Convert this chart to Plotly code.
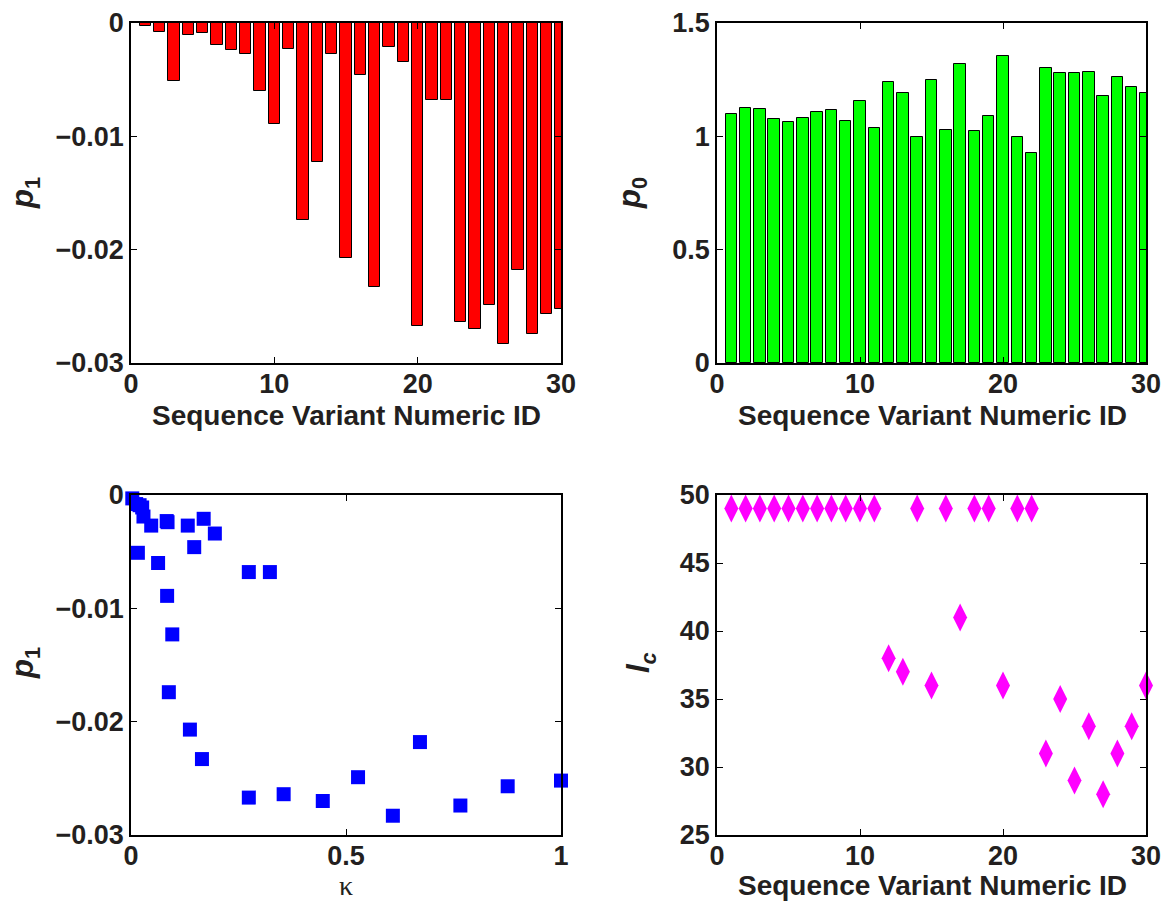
import plotly.graph_objects as go

# ---------------- data ----------------
variant_id = list(range(1, 31))

p1 = [-0.0003, -0.0008, -0.0051, -0.0011, -0.0009, -0.0019, -0.0024, -0.0027, -0.0060, -0.0089,
      -0.0023, -0.0174, -0.0123, -0.0027, -0.0207, -0.0046, -0.0233, -0.0021, -0.0034, -0.0267,
      -0.0068, -0.0068, -0.0264, -0.0270, -0.0249, -0.0283, -0.0218, -0.0274, -0.0257, -0.0252]

p0 = [1.098, 1.123, 1.120, 1.077, 1.064, 1.080, 1.108, 1.117, 1.067, 1.155,
      1.035, 1.239, 1.192, 0.996, 1.248, 1.027, 1.317, 1.023, 1.089, 1.355,
      0.996, 0.926, 1.301, 1.280, 1.279, 1.286, 1.180, 1.261, 1.217, 1.193]

kappa = [0.003, 0.012, 0.016, 0.026, 0.020, 0.029, 0.085, 0.047, 0.063, 0.084,
         0.083, 0.088, 0.096, 0.132, 0.137, 0.147, 0.165, 0.169, 0.195, 0.274,
         0.274, 0.323, 0.355, 0.446, 0.528, 0.609, 0.672, 0.766, 0.876, 1.000]

lc = [49, 49, 49, 49, 49, 49, 49, 49, 49, 49,
      49, 38, 37, 49, 36, 49, 41, 49, 49, 36,
      49, 49, 31, 35, 29, 33, 28, 31, 33, 36]

id_ticks = [0, 10, 20, 30]
p1_ticks = [0, -0.01, -0.02, -0.03]
p1_ticktext = ["0", "\u22120.01", "\u22120.02", "\u22120.03"]
p0_ticks = [0, 0.5, 1, 1.5]
p0_ticktext = ["0", "0.5", "1", "1.5"]
kappa_ticks = [0, 0.5, 1]
kappa_ticktext = ["0", "0.5", "1"]
lc_ticks = [25, 30, 35, 40, 45, 50]

xlabel_id = "Sequence Variant Numeric ID"

# ---------------- layout helpers ----------------
W, H = 1164, 905


def px_x(x):
    return x / W


def px_y(y):
    return 1 - y / H


TICKFONT = dict(family="Liberation Sans, Arial, sans-serif", size=27, color="#231f20", weight="bold")
TITLEFONT = dict(family="Liberation Sans, Arial, sans-serif", size=28, color="#231f20", weight="bold")
YTITLEFONT = dict(family="Liberation Sans, Arial, sans-serif", size=31, color="#231f20", weight="bold")


def axis(domain, rng, tickvals, ticktext=None, anchor=None, standoff=0):
    d = dict(
        domain=domain, range=rng, tickvals=tickvals, automargin=False,
        showgrid=False, zeroline=False,
        showline=True, linecolor="black", linewidth=1.6, mirror="ticks",
        ticks="inside", ticklen=6, tickwidth=1, tickcolor="black",
        tickfont=TICKFONT, anchor=anchor, ticklabelstandoff=standoff,
    )
    if ticktext is not None:
        d["ticktext"] = ticktext
    return d


left_dom = [px_x(131), px_x(561)]
right_dom = [px_x(717), px_x(1146)]
top_dom = [px_y(363), px_y(23)]
bot_dom = [px_y(835), px_y(495)]

fig = go.Figure()

fig.add_trace(go.Bar(x=variant_id, y=p1, width=0.8, xaxis="x", yaxis="y",
                     marker=dict(color="#ff0000", line=dict(color="black", width=1)), showlegend=False))
fig.add_trace(go.Bar(x=variant_id, y=p0, width=0.8, xaxis="x2", yaxis="y2",
                     marker=dict(color="#00ff00", line=dict(color="black", width=1)), showlegend=False))
fig.add_trace(go.Scatter(x=kappa, y=p1, mode="markers", xaxis="x3", yaxis="y3", cliponaxis=False,
                         marker=dict(symbol="square", size=14, color="#0000ff", line=dict(width=0)),
                         showlegend=False))
fig.add_trace(go.Scatter(x=variant_id, y=lc, mode="markers", xaxis="x4", yaxis="y4", cliponaxis=False,
                         marker=dict(symbol="diamond-tall", size=20, color="#ff00ff", line=dict(width=0)),
                         showlegend=False))

fig.update_layout(
    template="none",
    width=W, height=H, margin=dict(l=0, r=0, t=0, b=0, pad=0, autoexpand=False),
    paper_bgcolor="white", plot_bgcolor="white", bargap=0,
    xaxis=axis(left_dom, [0, 30], id_ticks, anchor="y", standoff=-4),
    yaxis=axis(top_dom, [-0.03, 0], p1_ticks, p1_ticktext, anchor="x"),
    xaxis2=axis(right_dom, [0, 30], id_ticks, anchor="y2", standoff=-4),
    yaxis2=axis(top_dom, [0, 1.5], p0_ticks, p0_ticktext, anchor="x2"),
    xaxis3=axis(left_dom, [0, 1], kappa_ticks, kappa_ticktext, anchor="y3", standoff=-4),
    yaxis3=axis(bot_dom, [-0.03, 0], p1_ticks, p1_ticktext, anchor="x3"),
    xaxis4=axis(right_dom, [0, 30], id_ticks, anchor="y4", standoff=-4),
    yaxis4=axis(bot_dom, [25, 50], lc_ticks, anchor="x4"),
)

ann = []
# x titles
ann.append(dict(text=xlabel_id, x=px_x(346), y=px_y(415), font=TITLEFONT))
ann.append(dict(text=xlabel_id, x=px_x(932), y=px_y(415), font=TITLEFONT))
ann.append(dict(text=xlabel_id, x=px_x(932), y=px_y(885), font=TITLEFONT))
ann.append(dict(text="\u03ba", x=px_x(346), y=px_y(885),
                font=dict(family="Liberation Serif, Times New Roman, serif", size=28, color="#231f20")))
# y titles
ann.append(dict(text="<i>p</i><sub>1</sub>", x=px_x(25), y=px_y(193), textangle=-90, font=YTITLEFONT))
ann.append(dict(text="<i>p</i><sub>0</sub>", x=px_x(632), y=px_y(193), textangle=-90, font=YTITLEFONT))
ann.append(dict(text="<i>p</i><sub>1</sub>", x=px_x(25), y=px_y(663), textangle=-90, font=YTITLEFONT))
ann.append(dict(text="<i>l</i><sub><i>c</i></sub>", x=px_x(641), y=px_y(663), textangle=-90, font=YTITLEFONT))

for a in ann:
    a.update(xref="paper", yref="paper", showarrow=False, xanchor="center", yanchor="middle")
fig.update_layout(annotations=ann)

fig.write_html("out.html")
